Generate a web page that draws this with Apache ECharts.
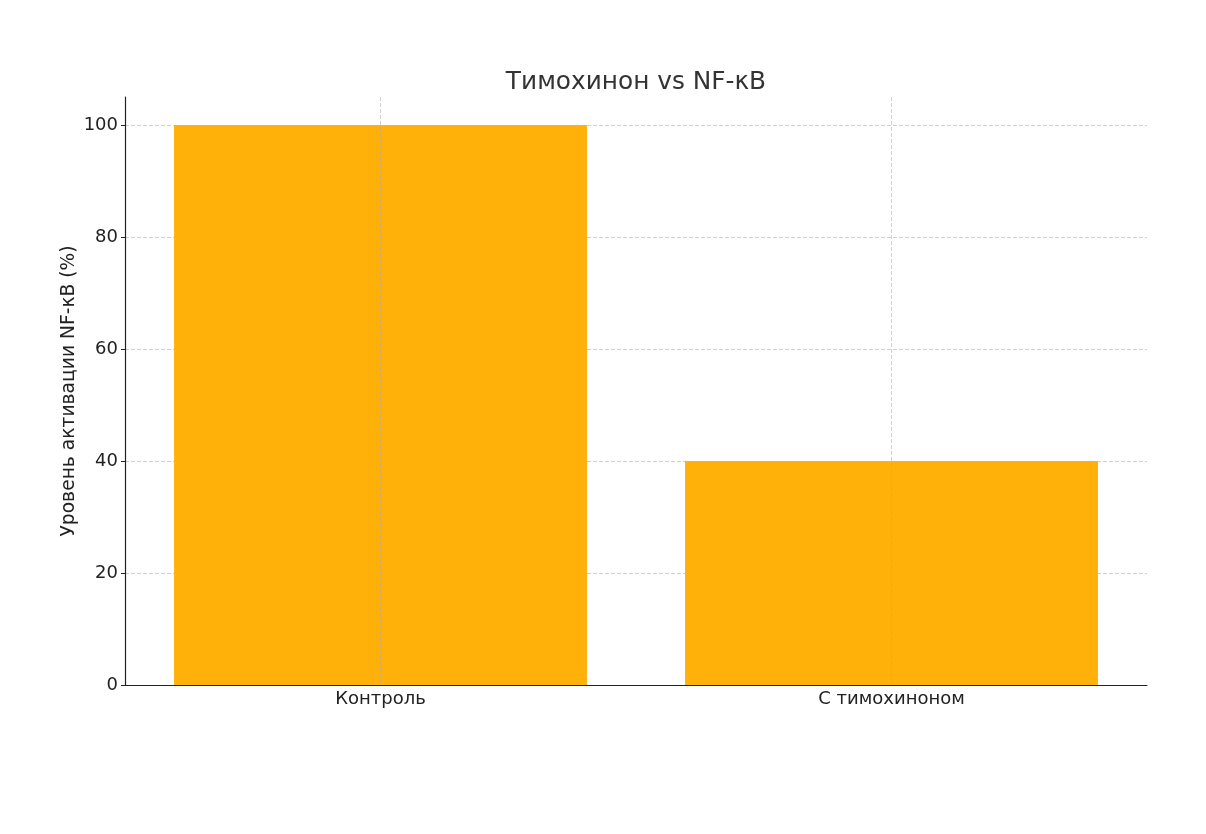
<!DOCTYPE html>
<html>
<head>
<meta charset="utf-8">
<script src="https://cdn.jsdelivr.net/npm/echarts@6/dist/echarts.min.js"></script>
<style>
  html, body { margin: 0; padding: 0; background: #fff; }
  #chart { width: 1206px; height: 834px; }
</style>
</head>
<body>
<div id="chart"></div>
<script>
const categories = ['Контроль', 'С тимохиноном'];
const activation = [100, 40];
const yTicks = [0, 20, 40, 60, 80, 100];

const font = 'DejaVu Sans';
const gridStyle = { color: 'rgba(170,170,170,0.7)', type: [4, 2], width: 0.8 };

const chart = echarts.init(document.getElementById('chart'));
chart.setOption({
  backgroundColor: '#fff',
  animation: false,
  title: {
    text: 'Тимохинон vs NF-κB',
    left: 631,
    textAlign: 'center',
    top: 65,
    textStyle: { fontFamily: font, fontSize: 24.8, fontWeight: 'normal', color: '#333' }
  },
  grid: { left: 125, right: 59, top: 97, bottom: 149 },
  xAxis: {
    type: 'category',
    data: categories,
    z: 3,
    axisLine: { lineStyle: { color: '#222', width: 1.2 } },
    axisTick: { alignWithLabel: true, length: 4, lineStyle: { color: '#222' } },
    axisLabel: { fontFamily: font, fontSize: 18, color: '#222', margin: 5 },
    splitLine: { show: true, alignWithLabel: true, lineStyle: gridStyle }
  },
  yAxis: {
    type: 'value',
    min: 0,
    max: 105,
    interval: 20,
    z: 3,
    name: 'Уровень активации NF-κB (%)',
    nameLocation: 'middle',
    nameGap: 46,
    nameMoveOverlap: false,
    nameTextStyle: { fontFamily: font, fontSize: 18.7, color: '#222' },
    axisLine: { show: true, lineStyle: { color: '#222', width: 1.2 } },
    axisTick: { show: true, length: 4, customValues: yTicks, lineStyle: { color: '#222' } },
    axisLabel: {
      fontFamily: font, fontSize: 18, color: '#222', margin: 7,
      customValues: yTicks
    },
    splitLine: { show: false }
  },
  series: [{
    type: 'bar',
    data: activation,
    barWidth: '80.8%',
    itemStyle: { color: '#ffb10a' },
    markLine: {
      silent: true,
      symbol: 'none',
      label: { show: false },
      z: 1,
      lineStyle: gridStyle,
      data: yTicks.slice(1).map(v => ({ yAxis: v }))
    }
  }]
});
</script>
</body>
</html>
